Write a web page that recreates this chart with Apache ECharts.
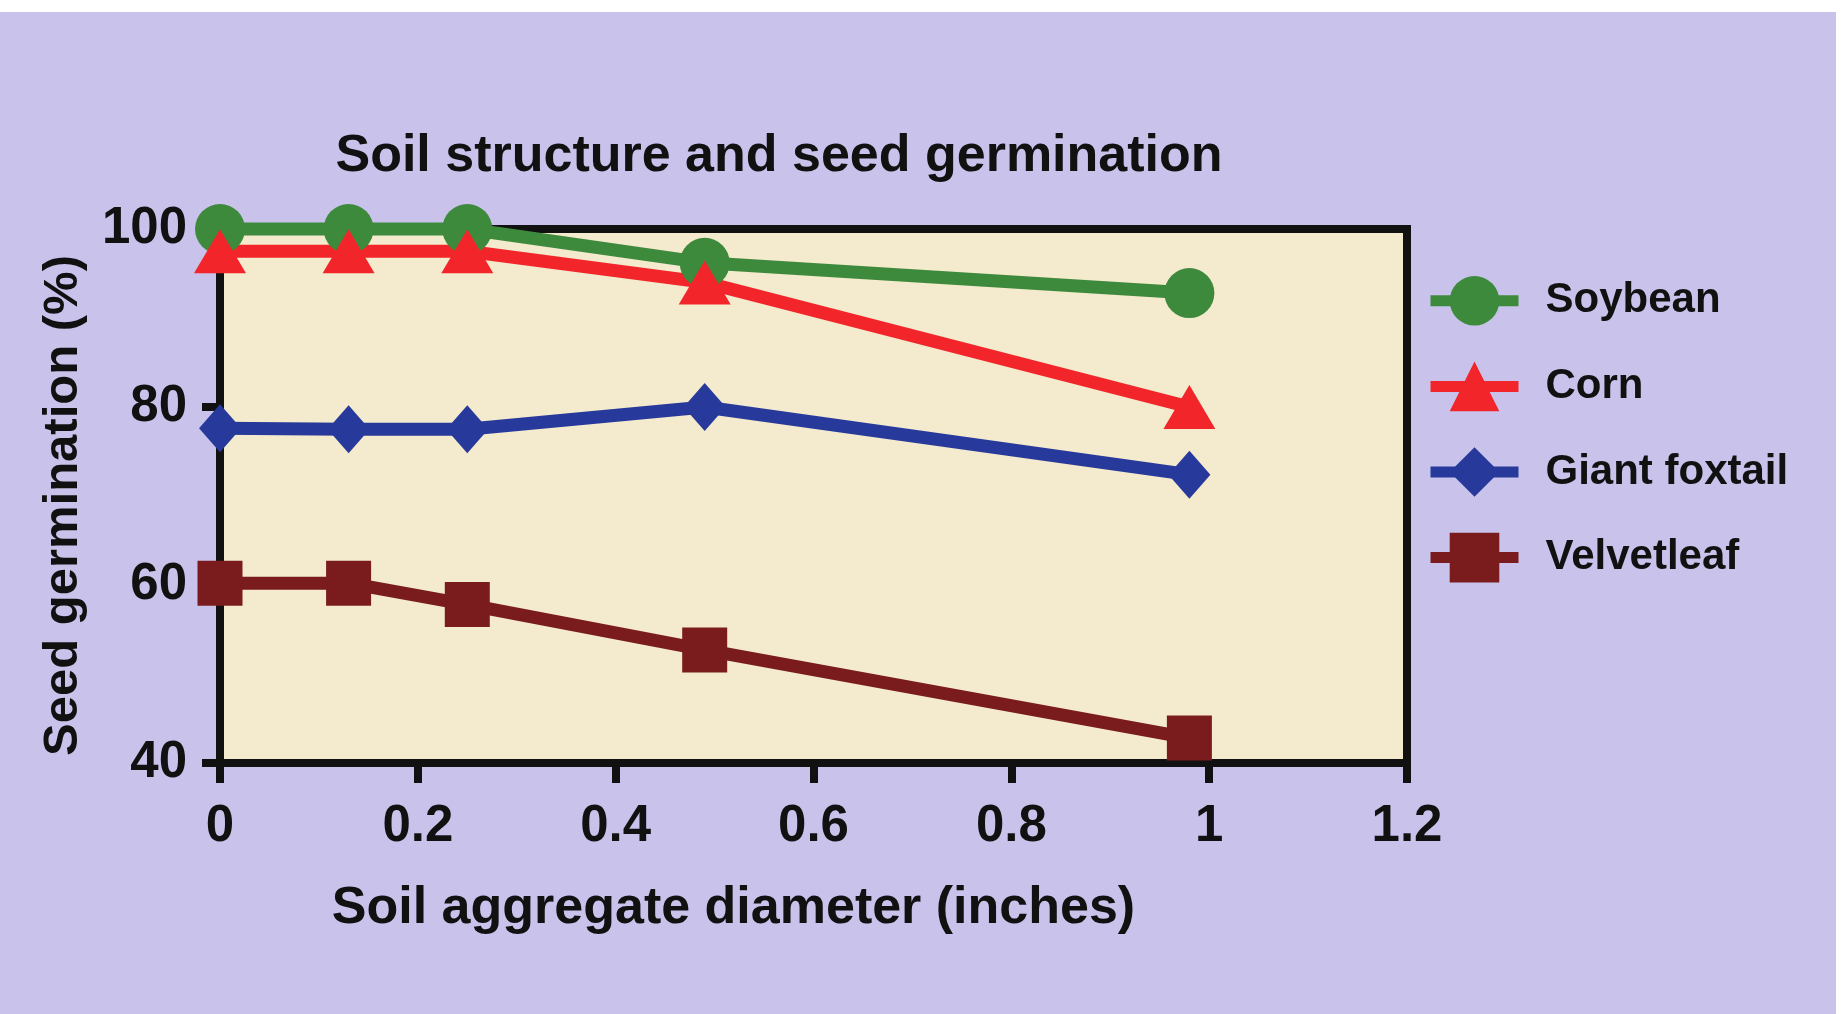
<!DOCTYPE html>
<html>
<head>
<meta charset="utf-8">
<script src="https://cdn.jsdelivr.net/npm/echarts@6/dist/echarts.min.js"></script>
<style>
html,body{margin:0;padding:0;background:#ffffff;}
#chart{width:1848px;height:1014px;}
</style>
</head>
<body>
<div id="chart"></div>
<script>
var diameters = [0, 0.13, 0.25, 0.49, 0.98];
var soybean = [100, 100, 100, 96.2, 92.8];
var corn = [97.5, 97.5, 97.5, 94, 80];
var giantFoxtail = [77.6, 77.5, 77.5, 80, 72.4];
var velvetleaf = [60.2, 60.2, 57.8, 52.7, 42.8];
var seriesNames = ['Soybean', 'Corn', 'Giant foxtail', 'Velvetleaf'];
var titleText = 'Soil structure and seed germination';
var xName = 'Soil aggregate diameter (inches)';
var yName = 'Seed germination (%)';

function pairs(vals) {
  return diameters.map(function (x, i) { return [x, vals[i]]; });
}

var FONT = '"Liberation Sans", Arial, Helvetica, sans-serif';
var chart = echarts.init(document.getElementById('chart'));

function lineSeries(name, vals, color, symbol, size) {
  return {
    name: name,
    type: 'line',
    data: pairs(vals),
    clip: false,
    symbol: symbol,
    symbolSize: size,
    lineStyle: { color: color, width: 13 },
    itemStyle: { color: color },
    emphasis: { disabled: true },
    animation: false
  };
}

chart.setOption({
  animation: false,
  backgroundColor: '#ffffff',
  graphic: [{
    type: 'rect',
    z: -10,
    silent: true,
    shape: { x: 0, y: 12, width: 1836, height: 1002 },
    style: { fill: '#c9c3ec' }
  }],
  title: {
    text: titleText,
    left: 774,
    top: 126,
    textAlign: 'center',
    textStyle: { fontFamily: FONT, fontWeight: 'bold', fontSize: 52, color: '#111' }
  },
  legend: {
    orient: 'vertical',
    left: 1420,
    top: 271,
    itemWidth: 88,
    itemHeight: 62,
    itemGap: 36,
    data: seriesNames,
    lineStyle: { width: 11 },
    textStyle: { fontFamily: FONT, fontWeight: 'bold', fontSize: 42, color: '#111', padding: [0, 0, 0, 22] }
  },
  grid: {
    left: 220,
    right: 441,
    top: 229,
    bottom: 251,
    show: true,
    backgroundColor: '#f4eacd',
    borderColor: '#111',
    borderWidth: 8
  },
  xAxis: {
    type: 'value',
    min: 0,
    max: 1.2,
    interval: 0.2,
    name: xName,
    nameLocation: 'middle',
    nameGap: 120,
    nameTextStyle: { fontFamily: FONT, fontWeight: 'bold', fontSize: 52, color: '#111', padding: [0, 160, 0, 0] },
    axisLine: { show: true, lineStyle: { color: '#111', width: 8 } },
    axisTick: { show: true, inside: false, length: 20, lineStyle: { color: '#111', width: 8 } },
    axisLabel: { fontFamily: FONT, fontWeight: 'bold', fontSize: 51, color: '#111', margin: 38 },
    splitLine: { show: false }
  },
  yAxis: {
    type: 'value',
    min: 40,
    max: 100,
    interval: 20,
    name: yName,
    nameLocation: 'middle',
    nameGap: 132,
    nameTextStyle: { fontFamily: FONT, fontWeight: 'bold', fontSize: 49, color: '#111', padding: [0, 19, 0, 0] },
    axisLine: { show: true, lineStyle: { color: '#111', width: 8 } },
    axisTick: { show: true, inside: false, length: 18, lineStyle: { color: '#111', width: 8 } },
    axisLabel: { fontFamily: FONT, fontWeight: 'bold', fontSize: 51, color: '#111', margin: 33 },
    splitLine: { show: false }
  },
  series: [
    lineSeries(seriesNames[0], soybean, '#3e8a3c', 'circle', 50),
    lineSeries(seriesNames[1], corn, '#f2262a', 'triangle', [52, 44]),
    lineSeries(seriesNames[2], giantFoxtail, '#273a9c', 'diamond', [42, 48]),
    lineSeries(seriesNames[3], velvetleaf, '#7a1c1e', 'rect', [45, 45])
  ]
});
</script>
</body>
</html>
